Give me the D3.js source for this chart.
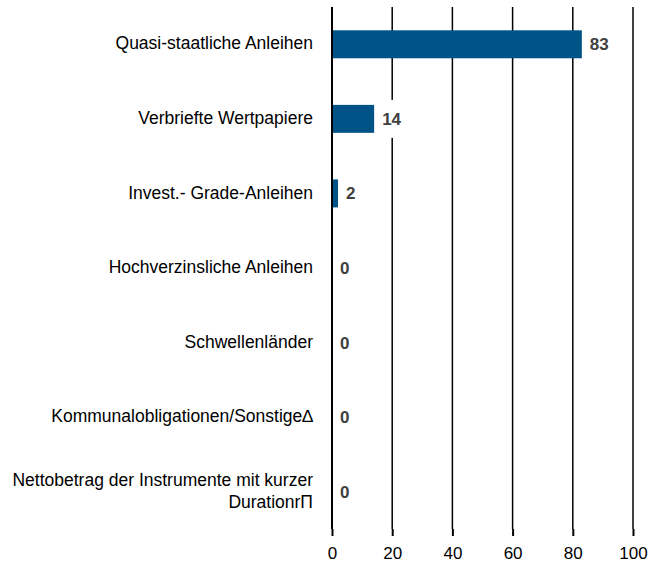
<!DOCTYPE html>
<html>
<head>
<meta charset="utf-8">
<script src="https://cdn.jsdelivr.net/npm/d3@7"></script>
<style>
  body { margin: 0; background: #fff; }
  text { font-family: "Liberation Sans", Arial, sans-serif; }
</style>
</head>
<body>
<div id="root"></div>
<script>
const width = 663;
const height = 565;

// Data

const categories = [
  'Quasi-staatliche Anleihen',
  'Verbriefte Wertpapiere',
  'Invest.- Grade-Anleihen',
  'Hochverzinsliche Anleihen',
  'Schwellenländer',
  'Kommunalobligationen/Sonstige∆',
  'Nettobetrag der Instrumente mit kurzer|DurationrΠ',
];
const values = [83, 14, 2, 0, 0, 0, 0];
const ticks = [0, 20, 40, 60, 80, 100];

const margin = { top: 7, right: 30, bottom: 36, left: 332 };

const svg = d3
  .select('#root')
  .append('svg')
  .attr('width', width)
  .attr('height', height);

const x = d3
  .scaleLinear()
  .domain([0, 100])
  .range([margin.left, 633]);

const y = d3
  .scaleBand()
  .domain(categories)
  .range([margin.top, height - margin.bottom])
  .paddingInner(0.625)
  .paddingOuter(0.3125);

// Gridlines

svg
  .append('g')
  .selectAll('line')
  .data(ticks.slice(1))
  .join('line')
  .attr('x1', (d) => x(d))
  .attr('x2', (d) => x(d))
  .attr('y1', margin.top)
  .attr('y2', height - margin.bottom)
  .attr('stroke', '#000')
  .attr('stroke-width', 1.5);

// Bars

svg
  .append('g')
  .selectAll('rect')
  .data(values)
  .join('rect')
  .attr('x', x(0))
  .attr('y', (d, i) => y(categories[i]))
  .attr('width', (d) => x(d) - x(0))
  .attr('height', y.bandwidth())
  .attr('fill', '#005387');

// Value labels (white box hides gridlines behind them)

const valueGroup = svg
  .append('g')
  .selectAll('g')
  .data(values)
  .join('g')
  .attr(
    'transform',
    (d, i) => `translate(${x(d) + 8},${y(categories[i]) + y.bandwidth() / 2})`
  );

valueGroup
  .append('rect')
  .attr('x', -3)
  .attr('y', -19)
  .attr('width', (d) => String(d).length * 10 + 6)
  .attr('height', 38)
  .attr('fill', '#fff');

valueGroup
  .append('text')
  .attr('dy', '0.35em')
  .attr('font-size', 17)
  .attr('font-weight', 'bold')
  .attr('fill', '#404040')
  .text((d) => d);

// Axis line at zero

svg
  .append('line')
  .attr('x1', x(0))
  .attr('x2', x(0))
  .attr('y1', margin.top)
  .attr('y2', height - margin.bottom)
  .attr('stroke', '#000')
  .attr('stroke-width', 2);

// Category labels

const labels = svg
  .append('g')
  .selectAll('text')
  .data(categories)
  .join('text')
  .attr('text-anchor', 'end')
  .attr('font-size', 17.5)
  .attr('fill', '#000');

labels.each(function (d) {
  const lines = d.split('|');
  const cy = y(d) + y.bandwidth() / 2;
  const lh = 22;
  d3.select(this)
    .selectAll('tspan')
    .data(lines)
    .join('tspan')
    .attr('x', x(0) - 19)
    .attr('y', (l, i) => cy - 1 + (i - (lines.length - 1) / 2) * lh)
    .attr('dy', '0.35em')
    .text((l) => l);
});

// X axis

const xAxis = d3
  .axisBottom(x)
  .tickValues(ticks)
  .tickSize(7)
  .tickPadding(11);

svg
  .append('g')
  .attr('transform', `translate(0,${height - margin.bottom})`)
  .call(xAxis)
  .call((g) => g.select('.domain').remove())
  .call((g) => g.selectAll('line').attr('stroke-width', 2))
  .call((g) =>
    g
      .selectAll('text')
      .attr('font-size', 17)
      .attr('font-family', '"Liberation Sans", Arial, sans-serif')
      .attr('fill', '#000')
  );
</script>
</body>
</html>
